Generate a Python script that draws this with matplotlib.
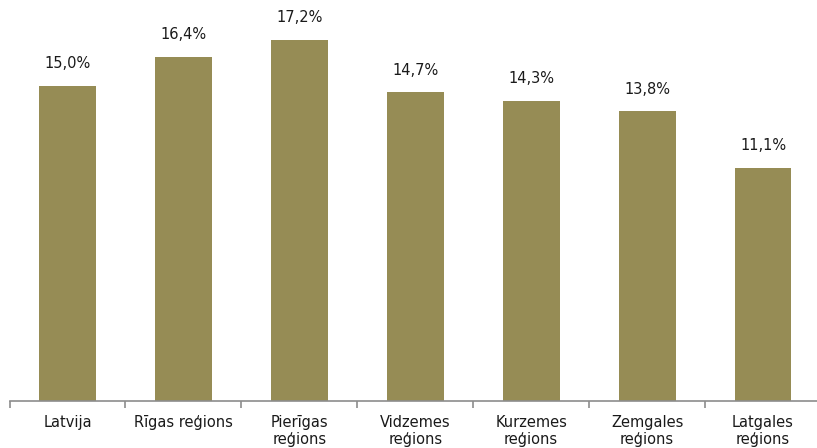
import matplotlib
matplotlib.use("Agg")
import matplotlib.pyplot as plt
import numpy as np

categories = ["Latvija", "Rīgas reģions", "Pierīgas\nreģions", "Vidzemes\nreģions",
              "Kurzemes\nreģions", "Zemgales\nreģions", "Latgales\nreģions"]
values = [15.0, 16.4, 17.2, 14.7, 14.3, 13.8, 11.1]
labels = ["15,0%", "16,4%", "17,2%", "14,7%", "14,3%", "13,8%", "11,1%"]

plt.rcParams['font.family'] = ['DejaVu Sans']
fig = plt.figure(figsize=(8.17, 4.48), dpi=100)
W, H = 817, 448
left_px, right_px = 9.5, 821
bottom_px = 401
ymax = 18
pxu = 21.0
ax = fig.add_axes([left_px / W, (H - bottom_px) / H, (right_px - left_px) / W, ymax * pxu / H])

x = np.arange(len(categories))
ax.bar(x, values, width=0.49, color="#968C55", zorder=2)
for xi, v, lab in zip(x, values, labels):
    ax.text(xi, v + 0.7, lab, ha="center", va="bottom", fontsize=10.5, color="#1a1a1a")

ax.set_xlim(-0.5, len(categories) - 0.5)
ax.set_ylim(0, ymax)
for s in ["top", "right", "left"]:
    ax.spines[s].set_visible(False)
ax.spines["bottom"].set_color("#8c8c8c")
ax.spines["bottom"].set_linewidth(1.2)
ax.set_yticks([])
ax.set_xticks(x)
ax.set_xticklabels(categories, fontsize=10.5, color="#1a1a1a", linespacing=1.15)
ax.tick_params(axis="x", which="major", length=0, pad=10)
ax.set_xticks(np.arange(-0.5, len(categories), 1.0), minor=True)
ax.tick_params(axis="x", which="minor", length=5, color="#8c8c8c", width=1.2)

fig.savefig("out.png", dpi=100)
